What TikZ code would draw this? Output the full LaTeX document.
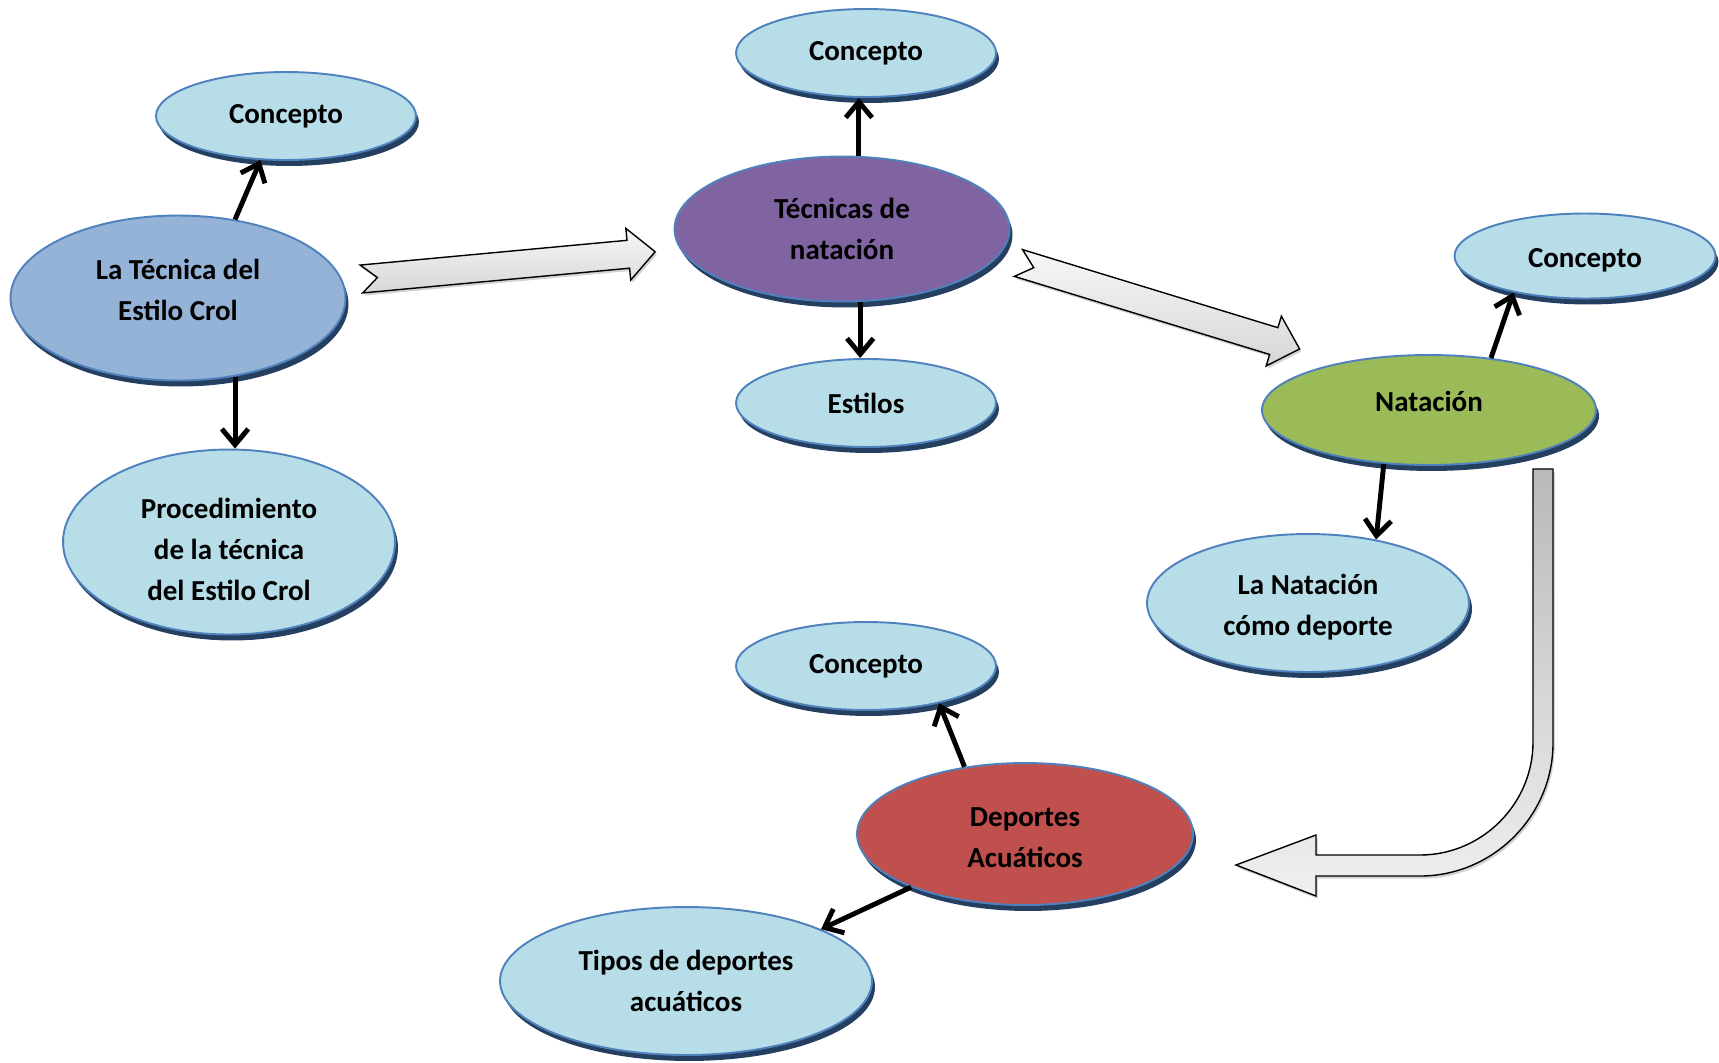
\documentclass[tikz,border=0pt]{standalone}
\usepackage{fontspec}
\setmainfont{Carlito}
\usetikzlibrary{shapes.geometric,arrows.meta,shadows,calc}
\definecolor{paleblue}{HTML}{B7DEE8}
\definecolor{slateblue}{HTML}{95B3D7}
\definecolor{rimblue}{HTML}{4F81BD}
\definecolor{deepblue}{HTML}{243F60}
\definecolor{plum}{HTML}{8064A2}
\definecolor{olive}{HTML}{9BBB59}
\definecolor{brick}{HTML}{C0504D}

\tikzset{
  idea/.style={ellipse, draw=rimblue, line width=1.1pt, fill=paleblue,
    inner sep=0pt, align=center,
    font=\bfseries\fontsize{16.5}{23.5}\selectfont,
    drop shadow={shadow xshift=1.7pt, shadow yshift=-3.4pt, fill=deepblue, opacity=1}},
  link/.style={line width=2.8pt, -{Straight Barb[length=9pt,width=15pt]}},
  bigarrow/.style={draw=black, line width=0.8pt, line join=miter,
    top color=gray!6, bottom color=gray!32,
    drop shadow={shadow xshift=1pt, shadow yshift=-1.5pt, fill=gray, opacity=0.35}}
}

% struts to nudge text up / down inside an ellipse
\newcommand{\lift}[1]{\rule[-#1]{0pt}{#1}}
\newcommand{\sink}[1]{\rule{0pt}{#1}}

% notched block arrow: tail point, angle, length
\newcommand{\notcharrow}[3]{%
  \begin{scope}[shift={#1}, rotate=#2]
    \draw[bigarrow] (0,-14) -- (#3-27,-14) -- (#3-27,-26) -- (#3,0)
      -- (#3-27,26) -- (#3-27,14) -- (0,14) -- (16,0) -- cycle;
  \end{scope}}

\begin{document}
\begin{tikzpicture}[x=0.02cm, y=-0.02cm]
  \useasboundingbox (0,0) rectangle (1719,1062);

  % left group
  \node[idea, fill=slateblue, minimum width=6.7cm, minimum height=3.3cm] (tecnica) at (178,298) {La Técnica del\\Estilo Crol\lift{9pt}};
  \node[idea, minimum width=5.2cm, minimum height=1.76cm] (conc1) at (286,116) {Concepto};
  \node[idea, minimum width=6.64cm, minimum height=3.7cm] (proc) at (229,542) {\sink{20pt}Procedimiento\\de la técnica\\del Estilo Crol};

  % middle group
  \node[idea, fill=plum, minimum width=6.7cm, minimum height=2.9cm] (tecnicas) at (842,229) {Técnicas de\\natación};
  \node[idea, minimum width=5.2cm, minimum height=1.76cm] (conc2) at (866,53) {Concepto};
  \node[idea, minimum width=5.2cm, minimum height=1.76cm] (estilos) at (866,403) {Estilos};

  % right group
  \node[idea, fill=olive, minimum width=6.68cm, minimum height=2.2cm] (natacion) at (1429,410) {Natación\lift{10pt}};
  \node[idea, minimum width=5.22cm, minimum height=1.7cm] (conc3) at (1585,256) {\sink{15.6pt}Concepto};
  \node[idea, minimum width=6.44cm, minimum height=2.76cm] (deporte) at (1308,603) {\sink{16.5pt}La Natación\\cómo deporte};

  % bottom group
  \node[idea, fill=brick, minimum width=6.72cm, minimum height=2.84cm] (acuaticos) at (1025,834) {\sink{14.6pt}Deportes\\Acuáticos};
  \node[idea, minimum width=5.2cm, minimum height=1.76cm] (conc4) at (866,666) {Concepto};
  \node[idea, minimum width=7.44cm, minimum height=2.96cm] (tipos) at (686,981) {Tipos de deportes\\acuáticos};

  % thin arrows
  \draw[link] (tecnica.54) -- (conc1.240);
  \draw[link] (tecnica.306) -- (tecnica.306 |- proc.north);
  \draw[link] (tecnicas.77) -- (tecnicas.77 |- conc2.south);
  \draw[link] (tecnicas.284) -- (tecnicas.284 |- estilos.north);
  \draw[link] (natacion.40) -- (conc3.207);
  \draw[link] (natacion.230) -- (deporte.43);
  \draw[link] (acuaticos.132) -- (conc4.333);
  \draw[link] (acuaticos.205) -- (tipos.21);

  % block arrows
  \coordinate (tailA) at ($(tecnica.east)+(15,-19)$);
  \coordinate (tailB) at ($(tecnicas.east)+(8,34)$);
  \notcharrow{(tailA)}{5.3}{295}
  \notcharrow{(tailB)}{-17}{294}

  % bent arrow down to the bottom group
  \draw[bigarrow, top color=gray!55, bottom color=gray!12]
    (1533,469) -- (1553,469) -- (1553,743)
    .. controls (1553,816) and (1493,876) .. (1420,876)
    -- (1316,876) -- (1316,896) -- (1236,865) -- (1316,835) -- (1316,855)
    -- (1420,855) .. controls (1482,855) and (1533,804) .. (1533,742) -- cycle;
\end{tikzpicture}
\end{document}
